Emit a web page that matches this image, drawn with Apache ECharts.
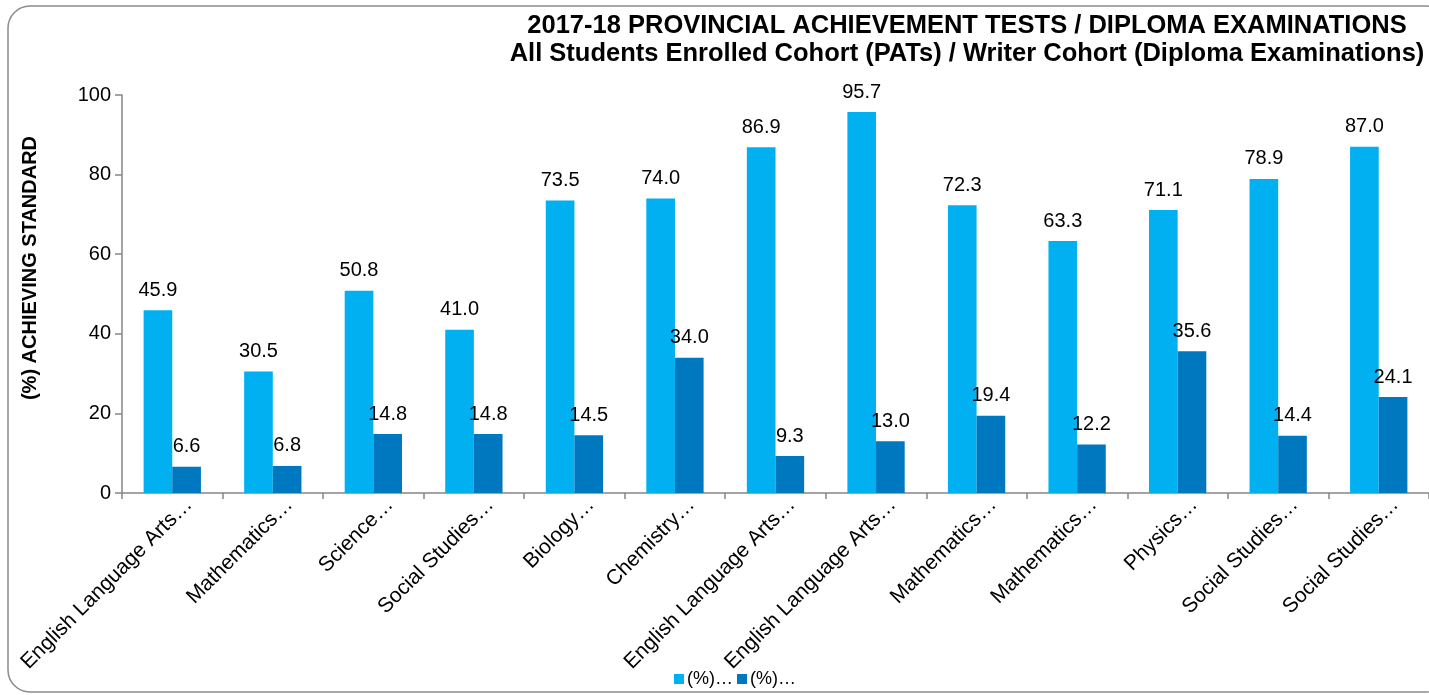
<!DOCTYPE html>
<html>
<head>
<meta charset="utf-8">
<script src="https://cdn.jsdelivr.net/npm/echarts@6/dist/echarts.min.js"></script>
<style>
  html, body { margin: 0; padding: 0; background: #fff; }
  #chart { width: 1429px; height: 695px; }
</style>
</head>
<body>
<div id="chart"></div>
<script>
// subjects as shown on the axis (cut short in the original)
const subjects = [
  "English Language Arts…", "Mathematics…", "Science…", "Social Studies…",
  "Biology…", "Chemistry…", "English Language Arts…", "English Language Arts…",
  "Mathematics…", "Mathematics…", "Physics…", "Social Studies…", "Social Studies…"
];
const acceptable = [45.9, 30.5, 50.8, 41.0, 73.5, 74.0, 86.9, 95.7, 72.3, 63.3, 71.1, 78.9, 87.0];
const excellence = [6.6, 6.8, 14.8, 14.8, 14.5, 34.0, 9.3, 13.0, 19.4, 12.2, 35.6, 14.4, 24.1];

const chart = echarts.init(document.getElementById("chart"));
const font = "Liberation Sans, Arial, sans-serif";

const labelStyle = {
  show: true,
  position: "top",
  distance: 10,
  color: "#000",
  fontSize: 20,
  fontFamily: font,
  formatter: (p) => p.value.toFixed(1),
};

const option = {
  animation: false,
  textStyle: { fontFamily: font },
  graphic: [
    {
      type: "rect",
      shape: { x: 8, y: 6, width: 1440, height: 686, r: 22 },
      style: { fill: "none", stroke: "#8c8c8c", lineWidth: 1.5 },
      silent: true,
      z: -1,
    },
    {
      type: "text",
      x: 967,
      y: 12,
      style: {
        text: "2017-18 PROVINCIAL ACHIEVEMENT TESTS / DIPLOMA EXAMINATIONS\nAll Students Enrolled Cohort (PATs) / Writer Cohort (Diploma Examinations)",
        font: "bold 25.5px " + font,
        fill: "#000",
        align: "center",
        lineHeight: 28,
      },
    },
    {
      type: "text",
      x: 30,
      y: 268,
      rotation: Math.PI / 2,
      style: {
        text: "(%) ACHIEVING STANDARD",
        font: "bold 20px " + font,
        fill: "#000",
        align: "center",
        verticalAlign: "middle",
      },
    },
  ],
  legend: {
    bottom: 2,
    left: 669,
    itemWidth: 10,
    itemHeight: 10,
    itemGap: 4,
    textStyle: { fontSize: 18, color: "#000", fontFamily: font, padding: [0, 0, 0, -2] },
    data: [
      { name: "A", icon: "rect" },
      { name: "B", icon: "rect" },
    ],
    formatter: () => "(%)…",
  },
  grid: { left: 122, top: 95, width: 1317, height: 398, containLabel: false },
  xAxis: {
    type: "category",
    data: subjects,
    axisLine: { lineStyle: { color: "#868686", width: 1.5 } },
    axisTick: { show: true, length: 6, lineStyle: { color: "#868686", width: 1.5 } },
    axisLabel: {
      rotate: 45,
      interval: 0,
      color: "#000",
      fontSize: 21,
      fontFamily: font,
      margin: 6,
      verticalAlign: "top",
      padding: [3, -10, 0, 0],
    },
  },
  yAxis: {
    type: "value",
    min: 0,
    max: 100,
    interval: 20,
    axisLine: { show: true, lineStyle: { color: "#868686", width: 1.5 } },
    axisTick: { show: true, length: 7, lineStyle: { color: "#868686", width: 1.5 } },
    axisLabel: { color: "#000", fontSize: 20, fontFamily: font, margin: 11 },
    splitLine: { show: false },
  },
  series: [
    {
      name: "A",
      type: "bar",
      data: acceptable,
      itemStyle: { color: "#00B0F0" },
      barGap: "0%",
      barCategoryGap: "43%",
      label: labelStyle,
    },
    {
      name: "B",
      type: "bar",
      data: excellence,
      itemStyle: { color: "#0078C0" },
      label: labelStyle,
    },
  ],
};

chart.setOption(option);
</script>
</body>
</html>
